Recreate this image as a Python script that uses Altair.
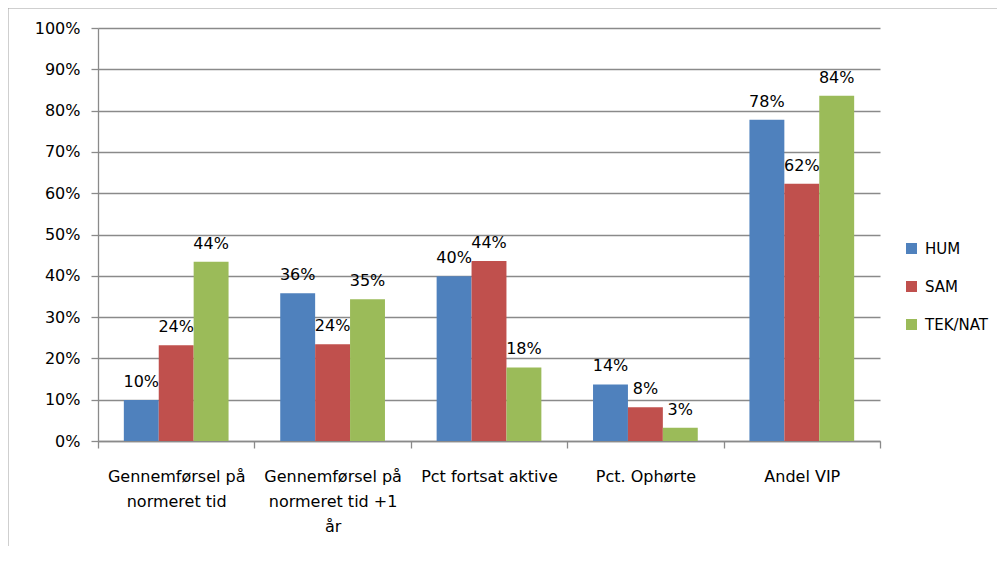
import altair as alt
import pandas as pd

categories = [
    "Gennemførsel på\nnormeret tid",
    "Gennemførsel på\nnormeret tid +1\når",
    "Pct fortsat aktive",
    "Pct. Ophørte",
    "Andel VIP",
]
series = ["HUM", "SAM", "TEK/NAT"]
colors = ["#4F81BD", "#C0504D", "#9BBB59"]

hum_values = [9.9, 35.8, 39.9, 13.7, 77.8]
sam_values = [23.2, 23.4, 43.6, 8.2, 62.3]
tek_values = [43.4, 34.3, 17.8, 3.2, 83.6]

hum_labels = ["10%", "36%", "40%", "14%", "78%"]
sam_labels = ["24%", "24%", "44%", "8%", "62%"]
tek_labels = ["44%", "35%", "18%", "3%", "84%"]

y_ticks = list(range(0, 101, 10))

rows = []
for s, vals, labs in zip(series, [hum_values, sam_values, tek_values],
                         [hum_labels, sam_labels, tek_labels]):
    for c, v, l in zip(categories, vals, labs):
        rows.append({"category": c, "series": s, "value": v, "label": l})
df = pd.DataFrame(rows)

FONT = "DejaVu Sans"
GRAY = "#8a8a8a"
W, H = 782, 413
PAD = {"left": 90, "top": 20, "right": 117, "bottom": 105}

x_enc = alt.X(
    "category:N",
    sort=categories,
    scale=alt.Scale(paddingInner=0, paddingOuter=0),
    axis=alt.Axis(
        title=None,
        labelAngle=0,
        tickBand="extent",
        labelExpr="split(datum.label, '\\n')",
        labelFont=FONT,
        labelFontSize=16,
        labelColor="#000000",
        labelPadding=20,
        labelLineHeight=25,
        labelBaseline="top",
        labelLimit=0,
        domainColor=GRAY,
        domainWidth=1.3,
        tickColor=GRAY,
        tickWidth=1.3,
        tickSize=7,
        grid=False,
    ),
)
xoff_enc = alt.XOffset(
    "series:N", sort=series,
    scale=alt.Scale(paddingInner=0, paddingOuter=0.74),
)
y_enc = alt.Y(
    "value:Q",
    scale=alt.Scale(domain=[0, 100], nice=False),
    axis=alt.Axis(
        title=None,
        values=y_ticks,
        labelExpr="datum.value + '%'",
        labelFont=FONT,
        labelFontSize=16,
        labelColor="#000000",
        labelPadding=11,
        domainColor=GRAY,
        domainWidth=1.3,
        tickColor=GRAY,
        tickWidth=1.3,
        tickSize=7,
        grid=True,
        gridColor=GRAY,
        gridWidth=1.3,
    ),
)

bars = alt.Chart(df).mark_bar().encode(
    x=x_enc,
    xOffset=xoff_enc,
    y=y_enc,
    color=alt.Color(
        "series:N",
        sort=series,
        scale=alt.Scale(domain=series, range=colors),
        legend=alt.Legend(
            title=None,
            orient="none",
            legendX=806,
            legendY=213,
            symbolType="square",
            symbolSize=121,
            symbolStrokeWidth=0,
            labelFont=FONT,
            labelFontSize=15,
            labelColor="#000000",
            labelOffset=6,
            labelLimit=0,
            rowPadding=22,
            padding=0,
        ),
    ),
)

texts = alt.Chart(df).mark_text(
    dy=-13, baseline="alphabetic", fontSize=16, font=FONT, color="#000000"
).encode(
    x=x_enc,
    xOffset=xoff_enc,
    y=y_enc,
    text="label:N",
)

frame_df = pd.DataFrame({"k": [0]})
frame_left = alt.Chart(frame_df).mark_rule(color="#a0a0a0", strokeWidth=1).encode(
    x=alt.value(-PAD["left"]),
    y=alt.value(-PAD["top"]),
    y2=alt.value(H + PAD["bottom"]),
)
frame_top = alt.Chart(frame_df).mark_rule(color="#a0a0a0", strokeWidth=1).encode(
    x=alt.value(-PAD["left"]),
    x2=alt.value(W + PAD["right"]),
    y=alt.value(-PAD["top"]),
)

chart = alt.layer(bars, texts, frame_left, frame_top).properties(
    width=W,
    height=H,
    padding=PAD,
    autosize=alt.AutoSizeParams(type="none"),
    background="white",
).configure_view(stroke=None)

chart.save("out.html", embed_options={"renderer": "svg", "actions": False})
